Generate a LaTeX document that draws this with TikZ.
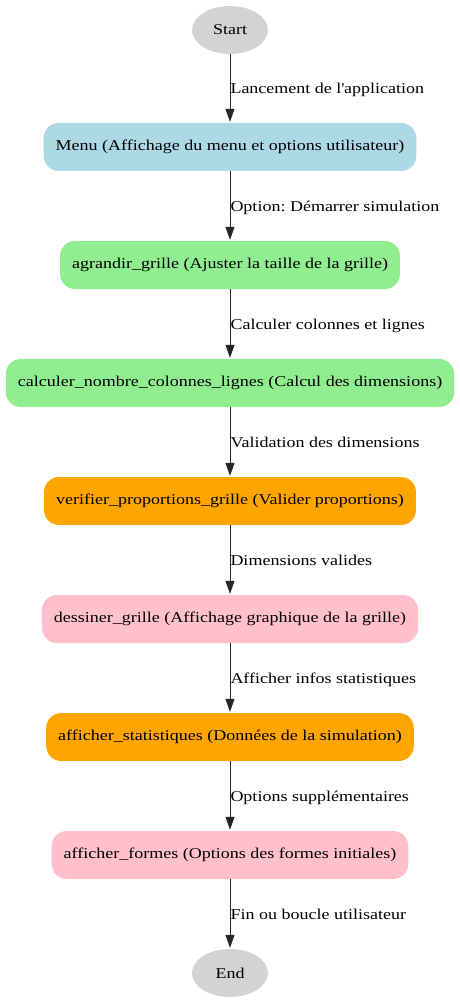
\documentclass[tikz,border=0pt]{standalone}
\usepackage{fontspec}
\setmainfont{Liberation Serif}[FakeStretch=1.2]
\usetikzlibrary{arrows.meta,shapes.geometric}
\definecolor{cblue}{RGB}{173,216,230}
\definecolor{cgreen}{RGB}{144,238,144}
\definecolor{corange}{RGB}{255,165,0}
\definecolor{cpink}{RGB}{255,192,203}
\definecolor{cgray}{RGB}{211,211,211}
\tikzset{
  every node/.style={font=\fontsize{15pt}{17pt}\selectfont\frenchspacing},
  proc/.style={rounded corners=15pt, inner xsep=12pt, minimum height=48pt, text height=10pt, text depth=3pt},
  term/.style={ellipse, fill=cgray, minimum width=76pt, minimum height=48pt, inner sep=0pt},
  conn/.style={draw=black!85, line width=1pt, shorten >=1pt, -{Triangle[length=13pt,width=9pt]}},
  lab/.style={anchor=west, inner sep=0pt, text height=10pt, text depth=3pt, yshift=-2pt}
}
\begin{document}
\begin{tikzpicture}[x=1pt,y=-1pt]
\useasboundingbox (0,0) rectangle (460,1003);
\node[term] (start) at (230,30) {Start};
\node[proc, fill=cblue] (menu) at (230,147) {Menu (Affichage du menu et options utilisateur)};
\node[proc, fill=cgreen] (agr) at (230,265) {agrandir\_grille (Ajuster la taille de la grille)};
\node[proc, fill=cgreen] (calc) at (230,383) {calculer\_nombre\_colonnes\_lignes (Calcul des dimensions)};
\node[proc, fill=corange] (ver) at (230,501) {verifier\_proportions\_grille (Valider proportions)};
\node[proc, fill=cpink] (dess) at (230,619) {dessiner\_grille (Affichage graphique de la grille)};
\node[proc, fill=corange] (stat) at (230,737) {afficher\_statistiques (Données de la simulation)};
\node[proc, fill=cpink] (form) at (230,855) {afficher\_formes (Options des formes initiales)};
\node[term] (end) at (230,973) {End};
\draw[conn] (start) -- node[lab] {Lancement de l\textquotesingle application} (menu);
\draw[conn] (menu) -- node[lab] {Option: Démarrer simulation} (agr);
\draw[conn] (agr) -- node[lab] {Calculer colonnes et lignes} (calc);
\draw[conn] (calc) -- node[lab] {Validation des dimensions} (ver);
\draw[conn] (ver) -- node[lab] {Dimensions valides} (dess);
\draw[conn] (dess) -- node[lab] {Afficher infos statistiques} (stat);
\draw[conn] (stat) -- node[lab] {Options supplémentaires} (form);
\draw[conn] (form) -- node[lab] {Fin ou boucle utilisateur} (end);
\end{tikzpicture}
\end{document}
